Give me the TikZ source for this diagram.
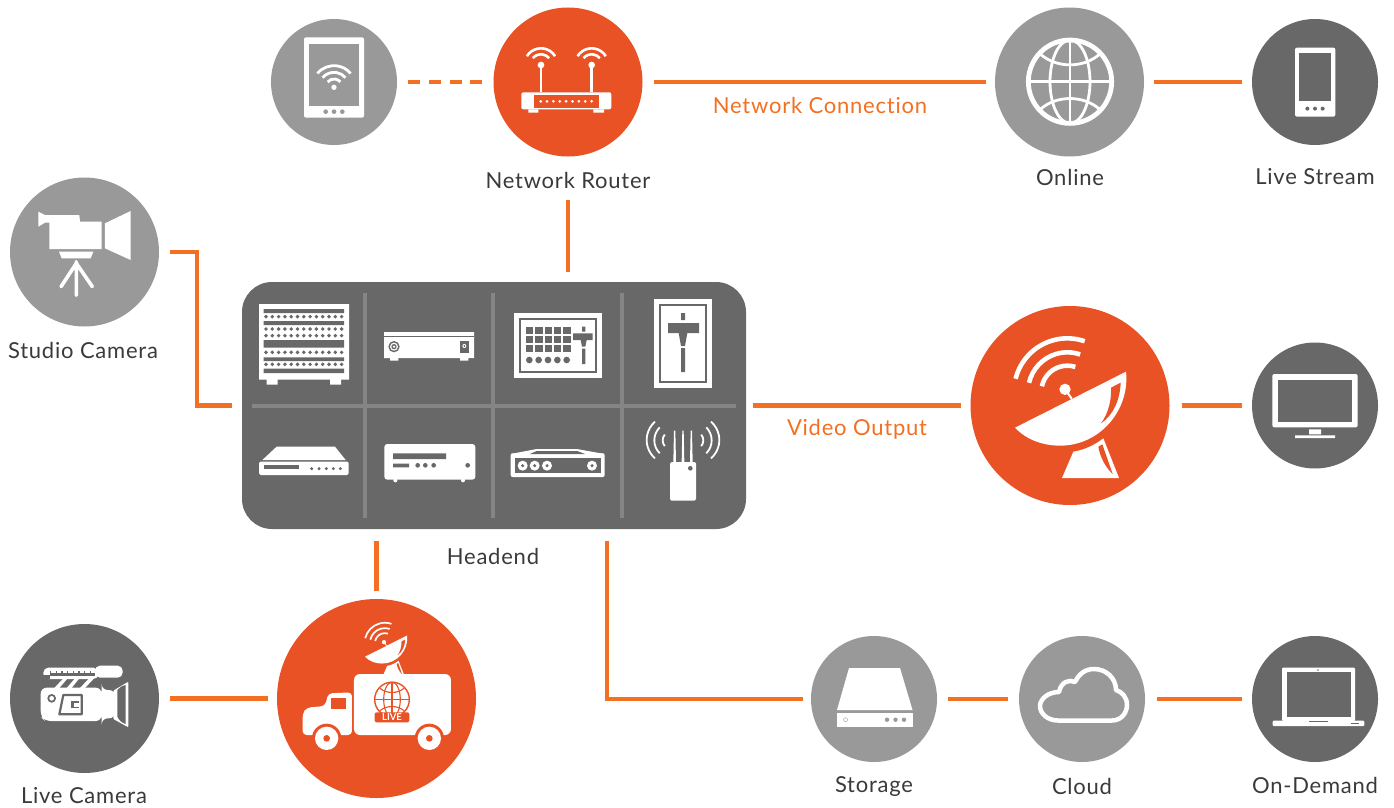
\documentclass[tikz,border=0pt]{standalone}
\usepackage{fontspec}
\setmainfont[LetterSpace=3.5,Ligatures=NoCommon]{Lato}
\usetikzlibrary{calc}
\definecolor{orangeA}{HTML}{E95225}
\definecolor{lineO}{HTML}{F36F21}
\definecolor{darkG}{HTML}{676867}
\definecolor{midG}{HTML}{999999}
\definecolor{gridG}{HTML}{858585}
\definecolor{labelG}{HTML}{3A3A3A}
\tikzset{
  zs/.style 2 args={shift={(#1pt,-#2pt)},x=.33333pt,y=-.33333pt},
  zu/.style n args={3}{shift={(#1pt,-#2pt)},x=#3pt,y=-#3pt},
  disc/.style={circle,inner sep=0pt,outer sep=0pt,draw=none},
  r63/.style={disc,minimum size=126pt},
  r74/.style={disc,minimum size=149pt},
  r99/.style={disc,minimum size=199pt},
  conn/.style={draw=lineO,line width=4.4pt},
  lab/.style={text=labelG,font=\fontsize{22}{24}\selectfont,inner sep=0pt},
  olab/.style={text=lineO,font=\fontsize{22}{24}\selectfont,inner sep=0pt},
  gridline/.style={draw=gridG,line width=4pt},
}
% dish in zoom coordinates
\newcommand{\dishicon}[2]{%
  \fill[white] (340,455) .. controls (372,450) and (405,435) .. (430,415) -- (477,534) -- (306,534) -- cycle;
  \fill[#2] (415,440) -- (427,433) -- (458,522) .. controls (435,500) and (420,470) .. (415,440) -- cycle;
  \fill[white] (165,383) -- (498,215) .. controls (510,330) and (420,437) .. (300,437) .. controls (250,437) and (200,420) .. (165,383) -- cycle;
  \fill[#2] (453,263) -- (482,248) .. controls (480,300) and (460,345) .. (423,370) .. controls (445,340) and (455,300) .. (453,263) -- cycle;
  \draw[white,line width=#1*.45] (315,268) -- (335,296);
  \fill[white] (315,268) circle (17);
  \draw[white,line width=#1] (322,275) ++(-166:160) arc (-166:-71:160);
  \draw[white,line width=#1] (322,275) ++(-167:118) arc (-167:-71:118);
  \draw[white,line width=#1] (322,275) ++(-168:78) arc (-168:-72:78);
}
% globe centred on the origin, radius 125
\newcommand{\globeicon}[3]{%
  \draw[#3,line width=#1] (0,0) circle (125);
  \draw[#3,line width=#2] (0,0) ellipse (60 and 125);
  \draw[#3,line width=#2] (0,-125) -- (0,125) (-125,0) -- (125,0);
  \draw[#3,line width=#2] (-88,-82) .. controls (-40,-40) and (40,-40) .. (88,-82);
  \draw[#3,line width=#2] (-88,82) .. controls (-40,40) and (40,40) .. (88,82);
}
\begin{document}
\begin{tikzpicture}[x=1pt,y=-1pt]
\useasboundingbox (0,0) rectangle (1394,808);
% discs
\node[r63,fill=midG] (tablet) at (334,82) {};
\node[r74,fill=orangeA] (router) at (568,82) {};
\node[r74,fill=midG] (online) at (1069.5,82) {};
\node[r63,fill=darkG] (stream) at (1315,82) {};
\node[r74,fill=midG] (studio) at (84.5,252) {};
\node[r99,fill=orangeA] (dish) at (1070,405.5) {};
\node[r63,fill=darkG] (tv) at (1315,405.5) {};
\node[r74,fill=darkG] (livecam) at (84.5,698.5) {};
\node[r99,fill=orangeA] (truck) at (376.5,698.5) {};
\node[r63,fill=midG] (storage) at (874,699) {};
\node[r63,fill=midG] (cloud) at (1082,699) {};
\node[r63,fill=darkG] (laptop) at (1315,699) {};
\node[fill=darkG,rounded corners=30pt,minimum width=504pt,minimum height=247pt,inner sep=0pt,outer sep=0pt] (headend) at (494,405.5) {};
% labels
\node[lab] (lrouter) at (568,180) {Network Router};
\node[lab] (lonline) at (1070,177) {Online};
\node[lab] (lstream) at (1315,177) {Live Stream};
\node[lab] (lstudio) at (83,350) {Studio Camera};
\node[lab] (lhead) at (493,556) {Headend};
\node[lab] (llive) at (84,796) {Live Camera};
\node[lab] (lstorage) at (874,787) {Storage};
\node[lab] (lcloud) at (1082,786) {Cloud};
\node[lab] (lond) at (1315,785) {On-Demand};
\node[olab] (lnet) at (820,105) {Network Connection};
\node[olab] (lvid) at (857,429) {Video Output};
% connectors
\draw[conn,dash pattern=on 12pt off 8.8pt,shorten <=11pt,shorten >=11pt] (tablet) -- (router);
\draw[conn,shorten <=11pt,shorten >=9.5pt] (router) -- (online);
\draw[conn,shorten <=10pt,shorten >=10pt] (online) -- (stream);
\coordinate (rtop) at (router|-headend.north);
\draw[conn,shorten <=43pt,shorten >=10pt] (router) -- (rtop);
\coordinate (sa) at (197,252);
\coordinate (sb) at (197,405.5);
\draw[conn,shorten >=10pt,shorten <=11pt] (studio) -- (sa) -- (sb) -- (headend.west);
\draw[conn,shorten <=7pt,shorten >=10pt] (headend.east) -- (dish);
\draw[conn,shorten <=12pt,shorten >=10pt] (dish) -- (tv);
\coordinate (tbot) at (truck|-headend.south);
\draw[conn,shorten <=12pt,shorten >=8pt] (tbot) -- (truck);
\draw[conn,shorten <=11pt,shorten >=9pt] (livecam) -- (truck);
\coordinate (pa) at (607,529);
\coordinate (pb) at (607,699);
\draw[conn,shorten <=12pt,shorten >=8pt] (pa) -- (pb) -- (storage);
\draw[conn,shorten <=11pt,shorten >=11pt] (storage) -- (cloud);
\draw[conn,shorten <=12pt,shorten >=10pt] (cloud) -- (laptop);
% headend grid
\begin{scope}[zs={240}{280}]
\draw[gridline] (375,38) -- (375,715) (760,38) -- (760,715) (1146,38) -- (1146,715) (35,378) -- (1487,378);
% rack
\fill[white] (57,72) rectangle (327,299) (80,299) rectangle (113,314) (270,299) rectangle (303,314);
\fill[darkG] (71,87) rectangle (312,99) (71,123) rectangle (312,135) (71,180) rectangle (312,203) (71,232) rectangle (312,243) (71,266) rectangle (312,279);
\foreach \y in {110,147,167,217,253} \foreach \x in {0,...,12} \fill[darkG] ({78+\x*18.9},\y) circle (5.8);
% box
\fill[white] (432,156) rectangle (702,234) (450,234) rectangle (475,242) (660,234) rectangle (685,242);
\fill[darkG] (432,168) rectangle (702,171);
\fill[darkG] (462,200) circle (17);
\fill[white] (462,200) circle (12);
\fill[darkG] (462,200) circle (8);
\fill[white] (462,200) circle (4);
\fill[darkG] (660,183) rectangle (687,218);
\fill[white] (673,198) circle (6);
\fill[darkG] (673,198) circle (3);
% switcher
\fill[white] (822,99) rectangle (1086,294);
\draw[darkG,line width=1.6pt] (840,117) rectangle (1068,276);
\foreach \y in {140,167,194} \foreach \x in {858,886,914,942,970} \fill[darkG] (\x,\y) rectangle ++(22,22);
\foreach \x in {868,896,924,952,980} \fill[darkG] (\x,240) circle (10);
\fill[darkG] (1026,140) rectangle (1036,155) (1026,206) rectangle (1036,252);
\fill[darkG] (999,160) rectangle (1058,180) (1022,180) -- (1040,180) -- (1036,200) -- (1026,200) -- cycle;
% fader
\fill[white] (1242,57) rectangle (1416,324);
\draw[darkG,line width=1.6pt] (1260,75) rectangle (1398,306);
\fill[darkG] (1323,99) rectangle (1335,120) (1323,204) rectangle (1335,276);
\fill[darkG] (1284,129) rectangle (1377,159) (1316,159) -- (1342,159) -- (1335,198) -- (1323,198) -- cycle;
% box 5
\fill[white] (110,500) -- (285,500) -- (317,540) -- (67,540) -- cycle;
\fill[white,rounded corners=1.5pt] (57,545) rectangle (326,585);
\fill[darkG] (72,556) rectangle (177,567);
\foreach \x in {215,237,259,280,301} \fill[darkG] (\x,566) circle (5);
% box 6
\fill[white] (466,601) circle (6) (669,601) circle (6);
\fill[white,rounded corners=3pt] (433,492) rectangle (706,599);
\fill[darkG] (459,520) rectangle (618,537) (459,551) rectangle (507,562);
\foreach \x in {533,556,581,683} \fill[darkG] (\x,556) circle (7);
% box 7
\fill[white] (812,522) -- (890,507) -- (1010,507) -- (1094,522) -- cycle;
\fill[white,rounded corners=2pt] (812,520) rectangle (1094,591);
\fill[darkG] (870,522) -- (890,513) -- (1012,513) -- (1035,522) -- cycle;
\fill[darkG] (825,535) rectangle (1082,580);
\foreach \x in {848,884,921,1056} {\fill[white] (\x,557) circle (15); \fill[darkG] (\x,557) circle (5);}
% wireless
\fill[white] (1300,546) -- (1302,452) -- (1306,452) -- (1308,546) -- cycle;
\fill[white] (1325,546) -- (1327,452) -- (1331,452) -- (1333,546) -- cycle;
\fill[white] (1350,546) -- (1352,452) -- (1356,452) -- (1358,546) -- cycle;
\fill[white,rounded corners=1.5pt] (1290,546) rectangle (1368,662);
\fill[darkG] (1351,565) circle (7);
\draw[white,line width=1.8pt] (1293,480) ++(131:73) arc (131:229:73);
\draw[white,line width=1.8pt] (1298,481) ++(135:55) arc (135:225:55);
\draw[white,line width=1.8pt] (1295,481) ++(140:27) arc (140:220:27);
\draw[white,line width=1.8pt] (1365,480) ++(49:73) arc (49:-49:73);
\draw[white,line width=1.8pt] (1360,481) ++(45:55) arc (45:-45:55);
\draw[white,line width=1.8pt] (1363,481) ++(40:27) arc (40:-40:27);
\end{scope}
% large dish and TV
\begin{scope}[zs={960}{300}]
\dishicon{4.6pt}{orangeA}
\fill[white,rounded corners=2pt] (937,222) rectangle (1193,382);
\fill[darkG] (954,239) rectangle (1176,365);
\fill[white] (1047,388) rectangle (1083,403) (1005,406) rectangle (1125,414);
\end{scope}
% tablet and router
\begin{scope}[zs={260}{10}]
\fill[white,rounded corners=2pt] (132,82) rectangle (312,323);
\fill[midG] (147,102) rectangle (298,288);
\foreach \x in {197,222,247} \fill[midG] (\x,305) circle (7);
\fill[white] (222,232) circle (8);
\foreach \r in {25,45,65} \draw[white,line width=2.8pt] (222,232) ++(-140:\r) arc (-140:-40:\r);
\fill[white,rounded corners=2pt] (784,247) rectangle (1054,298);
\fill[white] (805,298) rectangle (835,308) (1000,298) rectangle (1032,308);
\fill[orangeA] (822,255) rectangle (1016,293);
\foreach \i in {0,...,8} \fill[white] ({842+\i*19.1},274) circle (4.5);
\foreach \x in {843,995} {
  \draw[white,line width=2.4pt] (\x,165) -- (\x,247);
  \fill[white] (\x,165) circle (10);
  \draw[white,line width=2.6pt] (\x,165) ++(-148:50) arc (-148:-32:50);
  \draw[white,line width=2.6pt] (\x,165) ++(-140:32) arc (-140:-40:32);
}
\end{scope}
% globe and phone
\begin{scope}[zu={1070}{81.7}{.33333}]
\globeicon{4.8pt}{2.8pt}{white}
\end{scope}
\begin{scope}[zs={990}{10}]
\fill[white,rounded corners=2pt] (915,113) rectangle (1036,320);
\fill[darkG] (927,130) rectangle (1024,272);
\foreach \x in {952,975,998} \fill[darkG] (\x,296) circle (6);
\end{scope}
% studio camera
\begin{scope}[zs={0}{170}]
\fill[white] (115,125) -- (135,135) -- (238,135) -- (240,155) -- (305,155) -- (305,237) -- (148,237) -- (148,158) -- (135,158) -- (115,170) -- cycle;
\fill[white] (315,160) -- (392,123) -- (392,270) -- (315,235) -- cycle;
\fill[white] (177,245) -- (280,245) -- (272,265) -- (185,265) -- cycle;
\draw[white,line width=3.6pt,line cap=round,line join=round] (229,275) -- (229,376) (183,350) -- (229,280) -- (277,350);
\end{scope}
% live camera and truck
\begin{scope}[zs={0}{600}]
\fill[white,rounded corners=5pt] (130,203) rectangle (295,237);
\fill[darkG] (150,218) rectangle (285,228);
\foreach \i in {0,...,7} \fill[darkG] ({150+\i*17},212) rectangle ++(4,6);
\fill[darkG] (130,237) rectangle (150,225);
\fill[white,rounded corners=5pt] (285,197) rectangle (368,233);
\fill[white] (163,264) -- (190,235) -- (203,235) -- (178,264) -- cycle;
\fill[white] (200,264) -- (225,235) -- (238,235) -- (215,264) -- cycle;
\fill[white] (240,264) -- (270,232) -- (285,232) -- (255,264) -- cycle;
\fill[white,rounded corners=6pt] (122,263) -- (305,263) -- (305,270) -- (345,270) -- (345,355) -- (305,355) -- (305,363) -- (135,363) -- (122,350) -- cycle;
\fill[white,rounded corners=1pt] (340,272) -- (385,245) -- (385,382) -- (340,357) -- cycle;
\fill[darkG] (352,270) .. controls (358,262) and (365,258) .. (377,255) -- (377,372) .. controls (365,368) and (358,362) .. (352,350) -- cycle;
\fill[darkG] (155,295) circle (13);
\fill[white] (155,295) circle (7);
\draw[darkG,line width=2.2pt,line join=round] (245,285) -- (190,285) -- (178,343) -- (245,343) -- cycle;
\fill[darkG] (212,303) rectangle (238,325);
\fill[white] (221,310) rectangle (238,320);
\end{scope}
\begin{scope}[zu={344.1}{608.2}{.12667}]
\dishicon{1.7pt}{orangeA}
\end{scope}
\begin{scope}[zs={0}{600}]
\fill[white,rounded corners=6pt] (1062,222) rectangle (1353,405);
\fill[white,rounded corners=4pt] (908,405) -- (908,340) -- (920,323) -- (975,318) -- (985,280) -- (1056,277) -- (1056,405) -- cycle;
\fill[orangeA] (992,295) rectangle (1037,327);
\foreach \x in {980,1288} {
  \fill[orangeA] (\x,415) circle (44);
  \fill[white] (\x,415) circle (35);
  \fill[orangeA] (\x,415) circle (10);
}
\end{scope}
\begin{scope}[zu={392}{699.5}{.1387}]
\globeicon{1.4pt}{1.1pt}{orangeA}
\end{scope}
\begin{scope}[zs={0}{600}]
\fill[orangeA,rounded corners=2pt] (1124,337) rectangle (1228,367);
\node[text=white,inner sep=0pt,font=\fontsize{9.5}{10}\bfseries\addfontfeature{LetterSpace=0}\selectfont] (badge) at (1176,352.5) {LIVE};
\end{scope}
% storage
\fill[white] (849,668) -- (900,668) -- (912.5,710) -- (837,710) -- cycle;
\fill[white] (837,712.7) rectangle (912.5,726.7);
\foreach \x in {887,895.5,904} \fill[midG] (\x,719.7) circle (2.2);
\draw[midG,line width=.4pt] (845.5,719.7) circle (2);
% cloud
\draw[white,line width=4.5pt,line join=round] (1058,720.5) -- (1112,720.5) .. controls (1122,720.5) and (1127,712) .. (1127,705) .. controls (1127,697) and (1122,692) .. (1116,690) .. controls (1116,678) and (1106,669) .. (1094,669) .. controls (1085,669) and (1079,674) .. (1075,682) .. controls (1069,679) and (1061,682) .. (1059,692) .. controls (1048,692) and (1040,699) .. (1040,706) .. controls (1040,714) and (1048,720.5) .. (1058,720.5) -- cycle;
% laptop
\fill[white,rounded corners=1pt] (1282,667.7) rectangle (1355,721);
\fill[darkG] (1287,672) rectangle (1351,717);
\fill[darkG] (1318,670) circle (.8);
\fill[white,rounded corners=1pt] (1272.7,720.7) -- (1364.4,720.7) -- (1364.4,726) -- (1272.7,726) -- cycle;
\fill[darkG] (1309,720.7) rectangle (1327.6,722.2);
\fill[darkG] (1351,722.6) rectangle (1358.7,723.6);
\end{tikzpicture}
\end{document}
